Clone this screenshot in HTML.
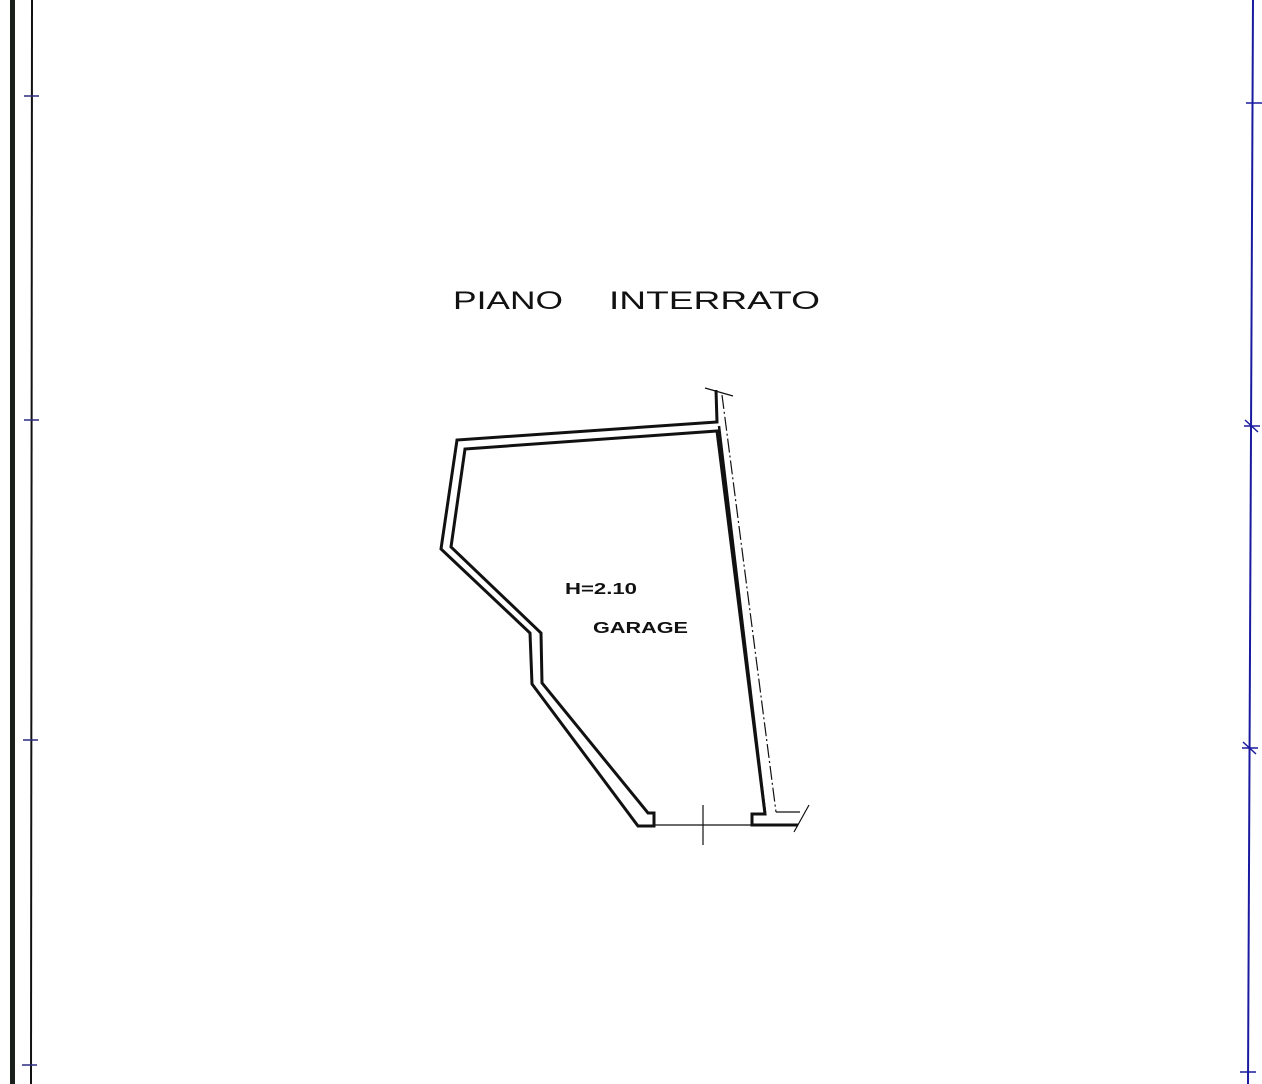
<!DOCTYPE html>
<html><head><meta charset="utf-8"><style>
html,body{margin:0;padding:0;background:#fff;}
svg{display:block;}
</style></head><body>
<svg width="1262" height="1084" viewBox="0 0 1262 1084" xmlns="http://www.w3.org/2000/svg">
<rect width="1262" height="1084" fill="#fff"/>
<line x1="12.5" y1="0" x2="12.5" y2="1084" stroke="#1a1f1c" stroke-width="5"/>
<line x1="32" y1="0" x2="31" y2="1084" stroke="#111" stroke-width="2"/>
<g stroke="#2a2a80" stroke-width="1.5">
<line x1="24" y1="96" x2="39" y2="96"/>
<line x1="24" y1="420" x2="39" y2="420"/>
<line x1="23" y1="740" x2="38" y2="740"/>
<line x1="22" y1="1065" x2="37" y2="1065"/>
</g>
<line x1="1253" y1="0" x2="1248" y2="1084" stroke="#1a1aa0" stroke-width="2"/>
<g stroke="#1a1aa0" stroke-width="1.5">
<line x1="1246" y1="103" x2="1262" y2="103"/>
<line x1="1244" y1="426" x2="1260" y2="426"/>
<line x1="1245" y1="420" x2="1258" y2="432"/>
<line x1="1242" y1="748" x2="1258" y2="748"/>
<line x1="1243" y1="742" x2="1256" y2="754"/>
<line x1="1240" y1="1072" x2="1256" y2="1072"/>
</g>
<text x="453" y="309" font-family="Liberation Sans, sans-serif" font-size="25" fill="#111" textLength="110" lengthAdjust="spacingAndGlyphs">PIANO</text>
<text x="609" y="309" font-family="Liberation Sans, sans-serif" font-size="25" fill="#111" textLength="211" lengthAdjust="spacingAndGlyphs">INTERRATO</text>
<g fill="none" stroke="#111" stroke-linejoin="miter">
<polyline stroke-width="3" points="716,390 717,422 457,440 441,549 530,633 532,684 638,826 654,826 654,813 648,813 542,683 541,633 451,547 465,449 717,431 765,814 752,814 752,825 798,825"/>
<polyline stroke-width="2.5" points="719,426 765,812"/>
<line x1="722" y1="395" x2="776" y2="812" stroke-width="1.2" stroke-dasharray="14,3,2,3"/>
<line x1="776" y1="812" x2="800" y2="812" stroke-width="1.2"/>
<line x1="655" y1="825" x2="752" y2="825" stroke-width="1.2"/>
<line x1="703" y1="805" x2="703" y2="845" stroke-width="1.2"/>
<line x1="705" y1="388" x2="733" y2="396" stroke-width="1.2"/>
<line x1="794" y1="832" x2="809" y2="805" stroke-width="1.2"/>
</g>
<text x="565" y="594" font-family="Liberation Sans, sans-serif" font-size="16" font-weight="bold" fill="#111" textLength="72" lengthAdjust="spacingAndGlyphs">H=2.10</text>
<text x="593" y="633" font-family="Liberation Sans, sans-serif" font-size="16" font-weight="bold" fill="#111" textLength="95" lengthAdjust="spacingAndGlyphs">GARAGE</text>
</svg>
</body></html>
